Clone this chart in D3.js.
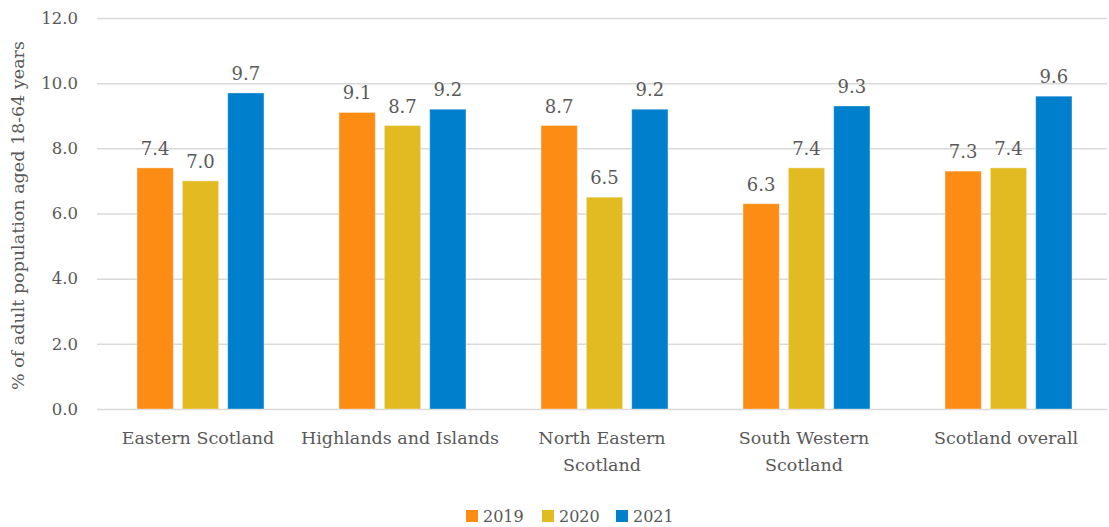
<!DOCTYPE html>
<html><head><meta charset="utf-8">
<script src="https://cdn.jsdelivr.net/npm/d3@7"></script>
<style>
html,body{margin:0;padding:0;background:#fff;}
text{font-family:"DejaVu Serif",serif;fill:#595959;}
</style></head>
<body>
<svg id="c" width="1109" height="527"></svg>
<script>
const categories = [["Eastern Scotland"],["Highlands and Islands"],["North Eastern","Scotland"],["South Western","Scotland"],["Scotland overall"]];
const years = ["2019","2020","2021"];
const v2019 = [7.4, 9.1, 8.7, 6.3, 7.3];
const v2020 = [7.0, 8.7, 6.5, 7.4, 7.4];
const v2021 = [9.7, 9.2, 9.2, 9.3, 9.6];
const yTicks = [0,2,4,6,8,10,12];
const colors = ["#FC8C14","#E2BA22","#0080CC"];
const series = [v2019, v2020, v2021];

(function(){
const svg = d3.select("#c");
const pL = 97, pR = 1107, pT = 18, pB = 409;
const y = d3.scaleLinear().domain([0,12]).range([pB, pT]);
const x0 = d3.scaleBand().domain(d3.range(categories.length)).range([pL, pR]);
const x1 = d3.scaleBand().domain(years).range([35.5, 171.5]).paddingInner(0.2).paddingOuter(0.1);

const yAxis = d3.axisLeft(y).tickValues(yTicks).tickSize(-(pR-pL)).tickFormat(d3.format(".1f")).tickPadding(19);
const ga = svg.append("g").attr("transform", `translate(${pL},0)`).call(yAxis);
ga.select(".domain").remove();
ga.selectAll(".tick line").attr("stroke","#d9d9d9").attr("stroke-width",1.5);
ga.selectAll(".tick text").style("font-size","16.5px").attr("fill","#595959");

const g = svg.append("g");
categories.forEach((c, i) => {
  const gg = g.append("g").attr("transform", `translate(${x0(i)},0)`);
  years.forEach((yr, j) => {
    const val = series[j][i];
    gg.append("rect")
      .attr("x", x1(yr)).attr("width", x1.bandwidth())
      .attr("y", y(val)).attr("height", y(0)-y(val))
      .attr("fill", colors[j]).attr("stroke","#ffffff").attr("stroke-opacity",0.35).attr("stroke-width",1);
    gg.append("text")
      .attr("x", x1(yr)+x1.bandwidth()/2).attr("y", y(val)-13)
      .attr("text-anchor","middle").style("font-size","18px")
      .text(d3.format(".1f")(val));
  });
  const t = gg.append("text").attr("text-anchor","middle").style("font-size","17.5px");
  c.forEach((line, k) => {
    t.append("tspan").attr("x", x0.bandwidth()/2).attr("y", 444 + k*27).text(line);
  });
});

svg.append("text")
  .attr("transform", `translate(24,${(pT+pB)/2 + 2}) rotate(-90)`)
  .attr("text-anchor","middle").style("font-size","17.5px")
  .text("% of adult population aged 18-64 years");

const lx = [466, 542, 616];
years.forEach((yr, j) => {
  svg.append("rect").attr("x", lx[j]).attr("y", 510).attr("width", 12).attr("height", 12).attr("fill", colors[j]);
  svg.append("text").attr("x", lx[j]+17).attr("y", 522).style("font-size","16px").text(yr);
});
})();
</script>
</body></html>
